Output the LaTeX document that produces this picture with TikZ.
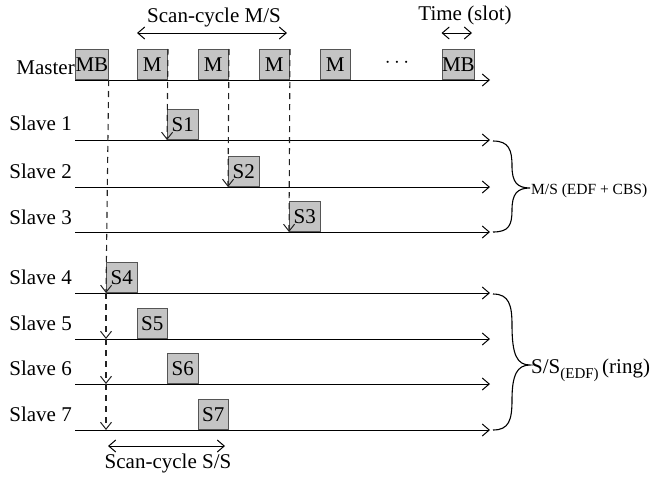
\documentclass[tikz,border=0pt]{standalone}
\usepackage{fontspec}
\setmainfont{Liberation Serif}
\usetikzlibrary{arrows.meta}
\definecolor{boxfill}{HTML}{C4C4C4}
\definecolor{boxborder}{HTML}{555555}
\definecolor{dashgray}{HTML}{222222}
\begin{document}
\begin{tikzpicture}[x=1pt,y=-1pt,
  slotbox/.style={draw=boxborder, fill=boxfill, line width=1pt, minimum width=30.5pt, minimum height=30pt, inner sep=0pt, anchor=south west, font=\fontsize{21}{22}\selectfont},
  rowlbl/.style={anchor=base east, inner sep=0pt, font=\fontsize{21}{22}\selectfont},
  maintext/.style={inner sep=0pt, font=\fontsize{21}{22}\selectfont},
  tl/.style={line width=1pt, -{Straight Barb[length=7pt,width=12pt,line width=1pt]}},
  dsh/.style={draw=dashgray, dash pattern=on 6pt off 5pt, line width=1.1pt, -{Straight Barb[length=7pt,width=11pt,line width=1pt]}},
  span/.style={line width=1pt, {Straight Barb[length=7pt,width=12pt,line width=1pt]}-{Straight Barb[length=7pt,width=12pt,line width=1pt]}},
  bracepath/.style={line width=1.1pt}
]
\useasboundingbox (0,0) rectangle (672,480);

% row coordinates
\foreach \n/\y in {0/80,1/140,2/187,3/232,4/293,5/339,6/384,7/430}{
  \coordinate (r\n s) at (75,\y);
  \coordinate (r\n e) at (490,\y);
}

% timelines
\foreach \n in {0,...,7}{ \draw[tl] (r\n s) -- (r\n e); }

% row labels
\node[rowlbl] (lm) at (75,74) {Master};
\node[rowlbl] (l1) at (72,130) {Slave 1};
\node[rowlbl] (l2) at (72,178) {Slave 2};
\node[rowlbl] (l3) at (72,224) {Slave 3};
\node[rowlbl] (l4) at (72,284) {Slave 4};
\node[rowlbl] (l5) at (72,330) {Slave 5};
\node[rowlbl] (l6) at (72,375) {Slave 6};
\node[rowlbl] (l7) at (72,421) {Slave 7};

% master slots
\node[slotbox] (mb0) at (75,80) {MB};
\node[slotbox] (m1) at (136.5,80) {M};
\node[slotbox] (m2) at (197.5,80) {M};
\node[slotbox] (m3) at (258.5,80) {M};
\node[slotbox] (m4) at (319.5,80) {M};
\node[slotbox] (mb1) at (441.5,80) {MB};
\node[maintext] (dots) at (397,63) {$\cdots$};

% slave slots
\node[slotbox] (s1) at (167,140) {S1};
\node[slotbox] (s2) at (228,187) {S2};
\node[slotbox] (s3) at (289,232) {S3};
\node[slotbox] (s4) at (106,293) {S4};
\node[slotbox] (s5) at (136.5,339) {S5};
\node[slotbox] (s6) at (167,384) {S6};
\node[slotbox] (s7) at (197.5,430) {S7};

% dashed triggers
\draw[dsh] (m1.north east) -- (s1.south west);
\draw[dsh] (m2.north east) -- (s2.south west);
\draw[dsh] (m3.north east) -- (s3.south west);
\coordinate (d5) at (106,339);
\coordinate (d6) at (106,384);
\coordinate (d7) at (106,430);
\draw[dsh] (mb0.south east) -- (s4.south west);
\draw[dsh] (s4.south west) -- (d5);
\draw[dsh] (d5) -- (d6);
\draw[dsh] (d6) -- (d7);

% scan cycle M/S
\coordinate (scA) at (137,33);
\coordinate (scB) at (287,33);
\draw[span] (scA) -- (scB);
\node[maintext] (scl) at (214,17) {Scan-cycle M/S};

% time slot
\coordinate (tA) at (441.5,33);
\coordinate (tB) at (472,33);
\draw[span] (tA) -- (tB);
\node[maintext] (tl) at (465,15) {Time (slot)};

% scan cycle S/S
\coordinate (ssA) at (108,446);
\coordinate (ssB) at (225,446);
\draw[span] (ssA) -- (ssB);
\node[maintext] (ssl) at (168,463) {Scan-cycle S/S};

% brace M/S
\draw[bracepath] (493,141) .. controls (509,141) and (512,150) .. (512,166)
  .. controls (512,182) and (517,188) .. (530,188)
  .. controls (517,188) and (512,194) .. (512,210)
  .. controls (512,225) and (509,232) .. (493,232);
\node[anchor=base west, inner sep=0pt, font=\fontsize{15.5}{17}\selectfont] (msl) at (531,194) {M/S (EDF + CBS)};

% brace S/S
\draw[bracepath] (493,294) .. controls (509,294) and (512,305) .. (512,325)
  .. controls (512,355) and (517,365) .. (530,365)
  .. controls (517,365) and (512,375) .. (512,400)
  .. controls (512,420) and (509,430) .. (493,430);
\node[anchor=base west, inner sep=0pt, font=\fontsize{21}{22}\selectfont] (ssrl) at (531,373) {S/S\raisebox{-5pt}{\fontsize{15}{16}\selectfont(EDF)}\,(ring)};
\end{tikzpicture}
\end{document}
